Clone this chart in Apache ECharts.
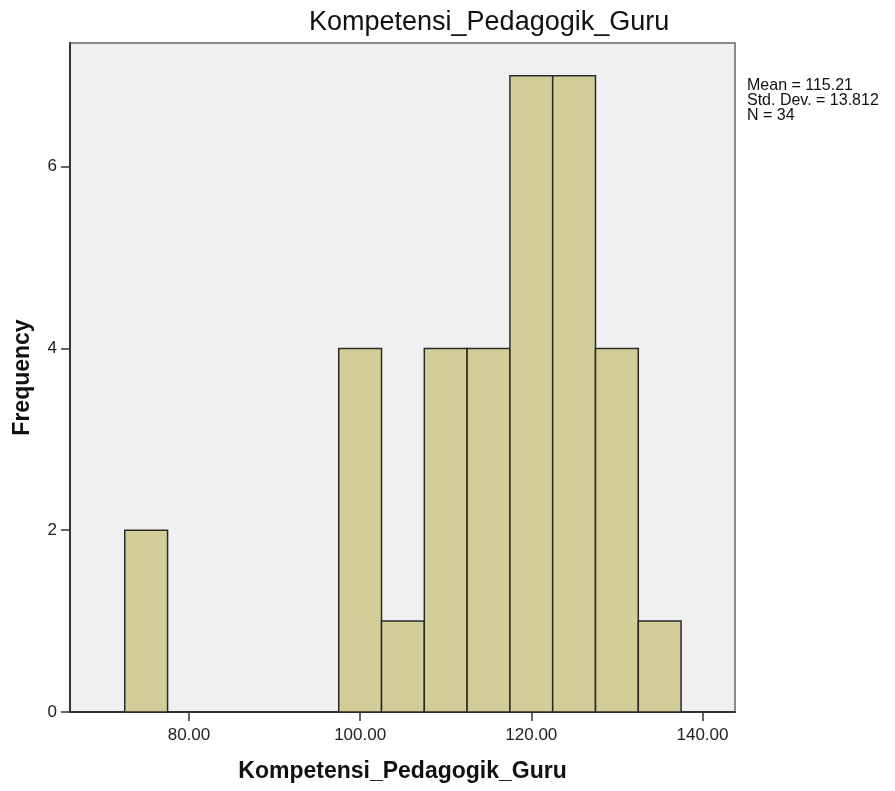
<!DOCTYPE html>
<html>
<head>
<meta charset="utf-8">
<title>Kompetensi_Pedagogik_Guru</title>
<script src="https://cdn.jsdelivr.net/npm/echarts@6/dist/echarts.min.js"></script>
<style>
    html, body { margin: 0; padding: 0; background: #fff; }
    #J-hist { width: 895px; height: 791px; }
</style>
</head>
<body>
<div id="J-hist"></div>
<script>
    // histogram bins (lower edge) and frequencies
    const binLows = [72.5, 97.5, 102.5, 107.5, 112.5, 117.5, 122.5, 127.5, 132.5];
    const counts = [2, 4, 1, 4, 4, 7, 7, 4, 1];
    const binWidth = 5;

    const xTicks = [80, 100, 120, 140];
    const yTicks = [0, 2, 4, 6];
    const statLines = ['Mean = 115.21', 'Std. Dev. = 13.812', 'N = 34'];

    const chartTitle = 'Kompetensi_Pedagogik_Guru';
    const xName = 'Kompetensi_Pedagogik_Guru';
    const yName = 'Frequency';

    /************直方图**************/
    {
        const font = 'Liberation Sans, Arial, sans-serif';
        const data = binLows.map(function (lo, i) {
            return [lo, lo + binWidth, counts[i]];
        });

        const option = {
            animation: false,
            title: {
                text: chartTitle,
                left: 304,
                top: 4,
                textStyle: { fontFamily: font, fontSize: 27, fontWeight: 'normal', color: '#111' }
            },
            grid: {
                left: 70, right: 160, top: 43, bottom: 79,
                show: true,
                backgroundColor: '#f0f0f0',
                borderColor: '#666',
                borderWidth: 1.5
            },
            xAxis: {
                type: 'value',
                min: 66.1,
                max: 143.8,
                name: xName,
                nameLocation: 'middle',
                nameGap: 48,
                nameTextStyle: { fontFamily: font, fontSize: 23, fontWeight: 'bold', color: '#111' },
                axisLine: { show: true, lineStyle: { color: '#333', width: 2 } },
                axisTick: { show: true, length: 9, customValues: xTicks, lineStyle: { color: '#333', width: 1.5 } },
                axisLabel: {
                    customValues: xTicks,
                    margin: 15,
                    fontFamily: font, fontSize: 17, color: '#222',
                    formatter: function (v) { return v.toFixed(2); }
                },
                splitLine: { show: false }
            },
            yAxis: {
                type: 'value',
                min: 0,
                max: 7.36,
                name: yName,
                nameLocation: 'middle',
                nameGap: 36,
                nameTextStyle: { fontFamily: font, fontSize: 23, fontWeight: 'bold', color: '#111' },
                axisLine: { show: true, lineStyle: { color: '#333', width: 2 } },
                axisTick: { show: true, length: 9, customValues: yTicks, lineStyle: { color: '#333', width: 1.5 } },
                axisLabel: {
                    customValues: yTicks,
                    margin: 13,
                    fontFamily: font, fontSize: 17, color: '#222'
                },
                splitLine: { show: false }
            },
            graphic: [{
                type: 'text',
                left: 747,
                top: 78,
                style: {
                    text: statLines.join('\n'),
                    font: '16px ' + font,
                    lineHeight: 15,
                    fill: '#111'
                }
            }],
            series: [{
                type: 'custom',
                data: data,
                encode: { x: [0, 1], y: 2 },
                renderItem: function (params, api) {
                    const p0 = api.coord([api.value(0), 0]);
                    const p1 = api.coord([api.value(1), api.value(2)]);
                    return {
                        type: 'rect',
                        shape: { x: p0[0], y: p1[1], width: p1[0] - p0[0], height: p0[1] - p1[1] },
                        style: { fill: '#d3ce97', stroke: '#2a2a2a', lineWidth: 1.5 }
                    };
                }
            }]
        };

        const chart = echarts.init(document.getElementById('J-hist'));
        chart.setOption(option);
    }
</script>
</body>
</html>
